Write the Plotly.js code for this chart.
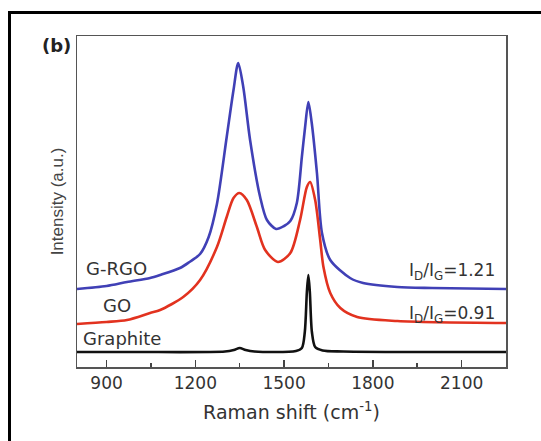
<!DOCTYPE html>
<html>
<head>
<meta charset="utf-8">
<script src="https://cdn.plot.ly/plotly-3.0.1.min.js"></script>
<style>
html,body{margin:0;padding:0;background:#fff;}
#wrap{position:relative;width:541px;height:441px;overflow:hidden;}
#chart{position:absolute;left:0;top:0;width:541px;height:441px;}
#frame{position:absolute;left:8px;top:11px;width:600px;height:500px;border-left:3px solid #000;border-top:3px solid #000;pointer-events:none;}
</style>
</head>
<body>
<div id="wrap"><div id="chart"></div><div id="frame"></div></div>
<script>
// Raman shift (cm^-1) and intensity (a.u.)
const rgoX = [800, 900, 969, 1047, 1081, 1148, 1180, 1216, 1245, 1273, 1306, 1329, 1345, 1362, 1385, 1419, 1442, 1473, 1500, 1521, 1543, 1560, 1571, 1582, 1593, 1611, 1628, 1656, 1723, 1767, 1883, 2000, 2250];
const rgoY = [78, 81, 85, 89, 92, 99, 105, 113, 130, 163, 230, 277, 304, 280, 227, 170, 147, 138, 141, 146, 164, 210, 240, 265, 245, 194, 134, 107, 89, 84, 80, 79, 78];

const goX = [800, 900, 969, 1047, 1081, 1159, 1216, 1273, 1306, 1329, 1349, 1374, 1408, 1436, 1479, 1521, 1554, 1577, 1588, 1605, 1622, 1633, 1656, 1690, 1747, 1883, 2250];
const goY = [43, 45, 47, 54, 57, 70, 87, 120, 150, 169, 174, 167, 140, 117, 105, 114, 147, 180, 185, 167, 127, 100, 74, 59, 50, 46, 44];

const grX = [800, 1000, 1300, 1330, 1350, 1370, 1400, 1540, 1560, 1570, 1577, 1582, 1587, 1594, 1605, 1630, 1700, 2250];
const grY = [15, 15, 15.5, 17, 19, 17, 15.5, 16, 19, 35, 75, 92, 75, 35, 20, 16.5, 15.5, 15];

const xTicks = [900, 1200, 1500, 1800, 2100];
const seriesNames = ['G-RGO', 'GO', 'Graphite'];
const ratioLabels = ['I<sub>D</sub>/I<sub>G</sub>=1.21', 'I<sub>D</sub>/I<sub>G</sub>=0.91'];

const lineCommon = {shape: 'spline', smoothing: 0.8, width: 2.6};
const traces = [
  {x: rgoX, y: rgoY, mode: 'lines', name: seriesNames[0], line: Object.assign({color: '#4040b6'}, lineCommon)},
  {x: goX, y: goY, mode: 'lines', name: seriesNames[1], line: Object.assign({color: '#e2321f'}, lineCommon)},
  {x: grX, y: grY, mode: 'lines', name: seriesNames[2], line: Object.assign({color: '#111111'}, lineCommon)}
];

const fam = 'DejaVu Sans, sans-serif';
const layout = {
  width: 541, height: 441,
  margin: {l: 77, r: 35, t: 36, b: 74},
  paper_bgcolor: '#fff', plot_bgcolor: '#fff',
  showlegend: false,
  font: {family: fam, size: 17, color: '#333'},
  xaxis: {
    range: [800, 2250],
    tickvals: xTicks,
    ticktext: xTicks.map(String),
    ticks: 'inside', ticklen: 7, tickwidth: 1.5, tickcolor: '#444',
    minor: {tickvals: [1050, 1350, 1650, 1950], ticks: 'inside', ticklen: 4, tickwidth: 1.5, tickcolor: '#444'},
    showline: true, mirror: true, linecolor: '#555', linewidth: 1.5,
    showgrid: false, zeroline: false,
    tickfont: {family: fam, size: 17, color: '#333'},
    title: {text: 'Raman shift (cm<sup>-1</sup>)', font: {family: fam, size: 19, color: '#333'}, standoff: 14}
  },
  yaxis: {
    range: [0, 331],
    showticklabels: false, ticks: '',
    showline: true, mirror: true, linecolor: '#555', linewidth: 1.5,
    showgrid: false, zeroline: false,
    title: {text: 'Intensity (a.u.)', font: {family: 'Liberation Sans, Arial, sans-serif', size: 17, color: '#444'}, standoff: 7}
  },
  annotations: [
    {text: '<b>(b)</b>', xref: 'paper', yref: 'paper', x: -0.047, y: 0.970, xanchor: 'center', yanchor: 'middle', showarrow: false, font: {family: fam, size: 18, color: '#222'}},
    {text: seriesNames[0], xref: 'paper', yref: 'paper', x: 0.093, y: 0.299, xanchor: 'center', yanchor: 'middle', showarrow: false, font: {family: fam, size: 18, color: '#333'}},
    {text: seriesNames[1], xref: 'paper', yref: 'paper', x: 0.093, y: 0.187, xanchor: 'center', yanchor: 'middle', showarrow: false, font: {family: fam, size: 18, color: '#333'}},
    {text: seriesNames[2], xref: 'paper', yref: 'paper', x: 0.105, y: 0.085, xanchor: 'center', yanchor: 'middle', showarrow: false, font: {family: fam, size: 18, color: '#333'}},
    {text: ratioLabels[0], xref: 'paper', yref: 'paper', x: 0.979, xanchor: 'right', y: 0.29, yanchor: 'middle', showarrow: false, font: {family: fam, size: 17, color: '#333'}},
    {text: ratioLabels[1], xref: 'paper', yref: 'paper', x: 0.979, xanchor: 'right', y: 0.16, yanchor: 'middle', showarrow: false, font: {family: fam, size: 17, color: '#333'}}
  ]
};

Plotly.newPlot('chart', traces, layout, {staticPlot: true, displayModeBar: false});
</script>
</body>
</html>
